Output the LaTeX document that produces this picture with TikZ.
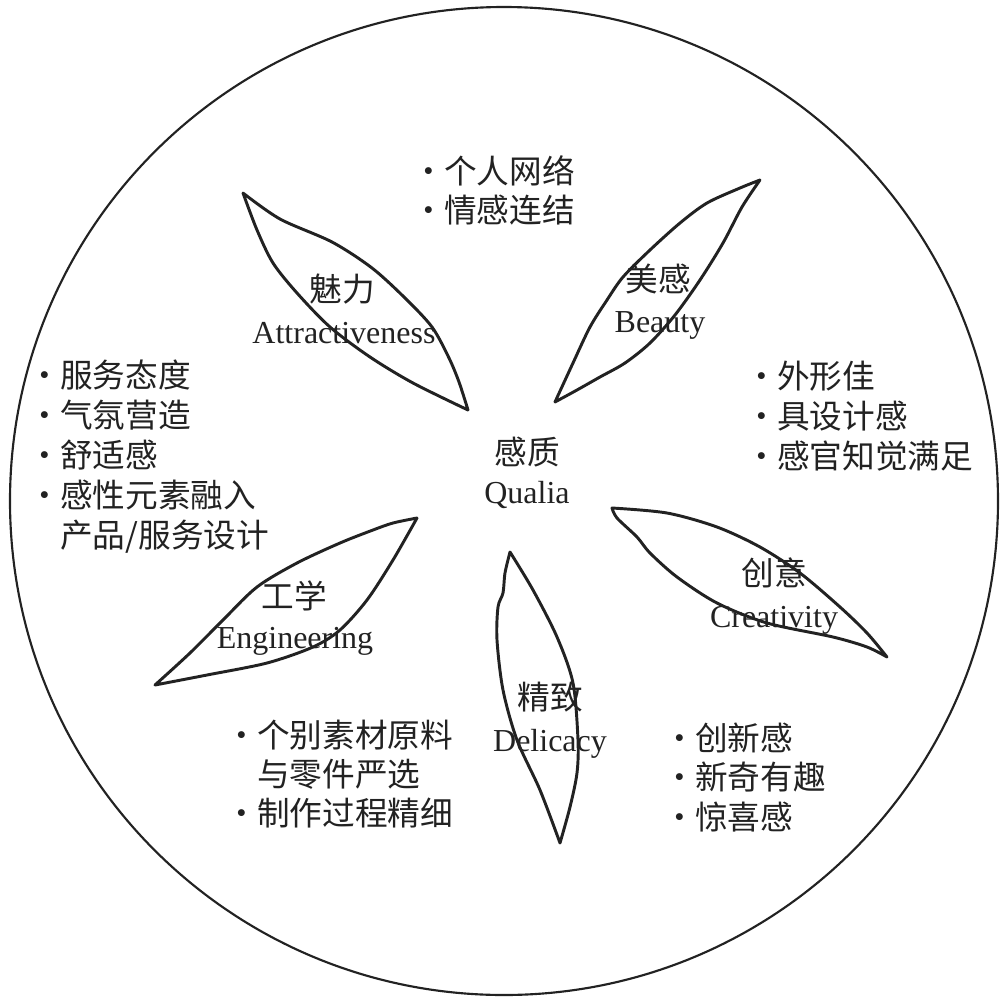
\documentclass[tikz,border=0pt]{standalone}
\usepackage{fontspec}
\setmainfont{Liberation Serif}
\newfontfamily\cjk{Noto Sans CJK SC}
\definecolor{ink}{RGB}{34,34,34}
\newcommand{\bul}{\makebox[22.5pt][c]{·}}
\begin{document}
\begin{tikzpicture}[x=0.75pt,y=-0.75pt,
  petal/.style={draw=ink, line width=2.2pt, line join=round},
  ring/.style={draw=ink, line width=1.6pt},
  zh/.style={font=\cjk\fontsize{24.5}{30}\selectfont, text=ink, inner sep=0pt, text height=0.88em, text depth=0.12em, yshift=-5pt},
  en/.style={font=\fontsize{24}{28}\selectfont, text=ink, inner sep=0pt, anchor=base},
  item/.style={zh, anchor=west}]
\useasboundingbox (0,0) rectangle (1008,1001);
\fill[white] (0,0) rectangle (1008,1001);
% outer circle
\draw[ring] (504,501) circle[radius=494];
% petals
% Attractiveness
\draw[petal] plot[smooth] coordinates {(243,193) (280,219) (332,242) (372,268) (405,298) (432,327) (449,358) (459,382) (468,410)}
  -- plot[smooth] coordinates {(468,410) (413,383) (370,357) (330,327) (297,293) (273,263) (257,230) (243,193)} -- cycle;
% Beauty
\draw[petal] plot[smooth] coordinates {(555,402) (573,363) (590,327) (607,300) (623,277) (650,250) (680,223) (707,203) (740,188) (760,180)}
  -- plot[smooth] coordinates {(760,180) (742,207) (723,243) (700,280) (675,315) (650,343) (625,363) (600,377) (577,390) (555,402)} -- cycle;
% Creativity
\draw[petal] plot[smooth] coordinates {(612,508) (667,513) (717,527) (760,547) (800,573) (840,607) (867,633) (887,657)}
  -- plot[smooth] coordinates {(887,657) (867,647) (833,637) (767,623) (717,603) (677,577) (650,553) (637,537) (617,518) (612,508)} -- cycle;
% Engineering
\draw[petal] plot[smooth] coordinates {(155,685) (190,653) (223,620) (257,587) (297,563) (340,543) (373,530) (393,523) (417,518)}
  -- plot[smooth] coordinates {(417,518) (393,560) (367,600) (340,630) (313,647) (267,663) (207,675) (155,685)} -- cycle;
% Delicacy
\draw[petal] plot[smooth] coordinates {(510,552) (505,573) (503,593) (498,607) (497,640) (503,690) (517,740) (540,790) (560,843)}
  -- plot[smooth] coordinates {(560,843) (570,807) (577,773) (578,740) (573,683) (557,637) (533,590) (510,552)} -- cycle;
% petal labels
\node[zh] (zqualia) at (527,453) {感质};
\node[en] (equalia) at (527,503) {Qualia};
\node[zh] (zattr) at (342,290) {魅力};
\node[en] (eattr) at (344,343) {Attractiveness};
\node[zh] (zbeauty) at (658,280) {美感};
\node[en] (ebeauty) at (660,332) {Beauty};
\node[zh] (zcre) at (774,574) {创意};
\node[en] (ecre) at (774,627) {Creativity};
\node[zh] (zeng) at (294,597) {工学};
\node[en] (eeng) at (295,648) {Engineering};
\node[zh] (zdel) at (550,698) {精致};
\node[en] (edel) at (550,751) {Delicacy};
% lists
\node[item] (t1) at (414,172) {\bul 个人网络};
\node[item] (t2) at (414,211) {\bul 情感连结};
\node[item] (l1) at (30,376) {\bul 服务态度};
\node[item] (l2) at (30,416) {\bul 气氛营造};
\node[item] (l3) at (30,456) {\bul 舒适感};
\node[item] (l4) at (30,496) {\bul 感性元素融入};
\node[item] (l5) at (60,536) {产品/服务设计};
\node[item] (r1) at (747,377) {\bul 外形佳};
\node[item] (r2) at (747,417) {\bul 具设计感};
\node[item] (r3) at (747,457) {\bul 感官知觉满足};
\node[item] (b1) at (227,736) {\bul 个别素材原料};
\node[item] (b2) at (257,775) {与零件严选};
\node[item] (b3) at (227,814) {\bul 制作过程精细};
\node[item] (c1) at (665,739) {\bul 创新感};
\node[item] (c2) at (665,778) {\bul 新奇有趣};
\node[item] (c3) at (665,818) {\bul 惊喜感};
\end{tikzpicture}
\end{document}
